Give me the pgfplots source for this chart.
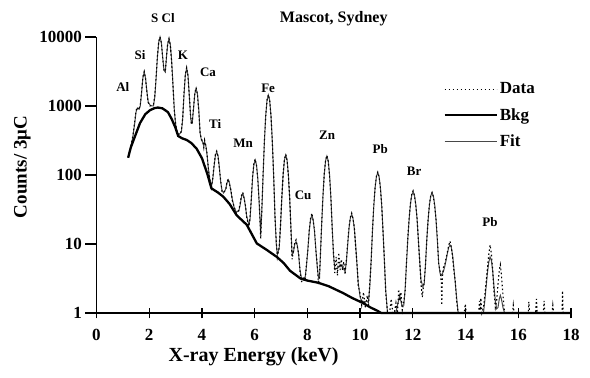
\documentclass[border=0pt]{standalone}
\usepackage{pgfplots}
\pgfplotsset{compat=1.18}
\usepackage{fontspec}
\setmainfont{Liberation Serif}
\pgfplotstableread{
x y
1.20 178
1.30 250
1.45 355
1.65 565
1.85 760
2.03 870
2.20 930
2.33 950
2.50 925
2.71 815
2.85 650
2.98 500
3.10 367
3.25 340
3.42 322
3.60 290
3.80 240
4.00 175
4.20 105
4.36 64
4.60 56
4.81 48.5
5.05 38
5.32 26
5.70 19
6.08 10.2
6.46 8.2
6.84 6.5
7.10 5.3
7.34 4.1
7.72 3.2
8.00 2.95
8.40 2.75
8.80 2.45
9.35 1.95
9.70 1.65
10.10 1.4
10.40 1.2
10.65 1.08
10.80 1.0
18.00 1.0
}\bkgtable
\pgfplotstableread{
x y
1.20 178
1.30 250
1.38 360
1.45 560
1.50 820
1.55 930
1.62 900
1.66 1000
1.71 1550
1.76 2550
1.81 3100
1.86 2550
1.91 1650
1.96 1150
2.03 1030
2.10 1000
2.16 1000
2.21 1330
2.26 2480
2.31 5050
2.36 8330
2.41 10000
2.46 8400
2.51 5150
2.56 3300
2.61 3100
2.66 5420
2.70 7830
2.75 9300
2.80 7800
2.85 4590
2.90 2060
2.95 900
3.00 545
3.05 440
3.10 380
3.17 400
3.22 420
3.27 650
3.32 1480
3.37 2800
3.42 3520
3.47 2800
3.52 1450
3.57 700
3.60 560
3.63 560
3.68 900
3.73 1500
3.78 1800
3.83 1480
3.88 880
3.93 410
3.98 320
4.03 300
4.07 260
4.10 300
4.14 280
4.19 200
4.25 120
4.31 80
4.36 68
4.41 87
4.46 133
4.51 191
4.56 217
4.61 190
4.66 130
4.71 80
4.76 60
4.82 55
4.90 62
4.95 77
5.00 85
5.05 75
5.10 58
5.15 45
5.22 34
5.30 29
5.40 30
5.45 37
5.50 48
5.55 54
5.60 47
5.65 35
5.70 25
5.78 19
5.82 22
5.87 42
5.92 91
5.97 142
6.02 165
6.07 140
6.12 88
6.17 40
6.23 14
6.27 29
6.32 99
6.37 309
6.42 724
6.47 1212
6.52 1440
6.57 1210
6.62 723
6.67 307
6.72 97
6.77 26
6.82 10
6.86 7
6.93 8.7
6.98 18
7.03 46
7.08 100
7.13 165
7.18 195
7.23 165
7.28 100
7.33 44
7.38 16
7.42 7
7.47 7.5
7.52 9.9
7.57 10.8
7.62 9.5
7.67 6.8
7.72 4.2
7.77 3.3
7.86 3.0
7.92 3.4
7.97 5
8.02 8.6
8.07 15.3
8.12 22.6
8.17 26
8.22 22.5
8.27 15.2
8.32 8.5
8.37 4.8
8.42 3.3
8.46 3.2
8.49 6.5
8.54 18.4
8.59 48.6
8.64 102.5
8.69 161
8.74 188
8.79 161
8.84 102
8.89 48
8.94 18
8.99 7
9.04 4.4
9.14 4.4
9.24 5.0
9.33 4.6
9.43 4.0
9.48 5.5
9.53 9.9
9.58 17
9.63 23.8
9.68 27
9.73 23.6
9.78 16.8
9.83 9.7
9.88 5
9.93 2.7
10.00 1.7
10.06 1.5
10.20 1.45
10.32 1.5
10.37 2.5
10.42 6.0
10.47 15.6
10.52 36
10.57 66
10.62 95.5
10.67 108
10.72 95.4
10.77 66
10.82 35.8
10.87 15.4
10.92 5.7
10.97 2.2
11.04 1.0
11.35 1.0
11.42 1.3
11.50 1.8
11.58 1.3
11.66 1.3
11.71 2.3
11.76 5.3
11.81 11.8
11.86 23.1
11.91 38
11.96 51.5
12.01 57
12.06 51.5
12.11 38
12.16 23.1
12.21 11.8
12.26 5.5
12.31 3.0
12.38 2.4
12.43 2.6
12.48 5.1
12.53 11.4
12.58 22.3
12.63 36.7
12.68 49.7
12.73 55
12.78 49.7
12.83 36.7
12.88 22.3
12.93 11.4
12.98 5.4
13.03 3.8
13.08 3.5
13.16 4.0
13.21 4.7
13.26 5.8
13.31 7.3
13.36 8.9
13.41 9.7
13.46 8.9
13.51 6.8
13.56 4.4
13.61 2.7
13.66 1.7
13.72 1.0
14.68 1.0
14.73 1.5
14.78 2.4
14.83 3.8
14.88 5.4
14.93 6.5
14.98 5.8
15.03 4.0
15.08 2.4
15.13 1.5
15.18 1.15
15.23 1.2
15.28 1.6
15.32 1.8
15.36 1.6
15.42 1.2
15.48 1.0
18.00 1.0
}\fittable
\pgfplotstableread{
x y
1.20 178
1.30 255
1.38 370
1.45 600
1.50 860
1.55 960
1.59 880
1.62 920
1.66 1050
1.71 1600
1.76 2650
1.81 3150
1.86 2500
1.91 1600
1.96 1120
2.03 1000
2.10 1030
2.16 1050
2.21 1400
2.26 2600
2.31 5300
2.36 8600
2.41 10000
2.46 8200
2.51 5000
2.56 3250
2.61 3200
2.66 5600
2.70 8000
2.75 9500
2.80 7600
2.85 4400
2.90 2000
2.95 880
3.00 560
3.05 430
3.10 390
3.17 390
3.22 440
3.27 680
3.32 1550
3.37 2900
3.42 3600
3.47 2750
3.52 1400
3.57 720
3.60 540
3.63 580
3.68 950
3.73 1550
3.78 1850
3.83 1450
3.88 850
3.93 400
3.98 330
4.03 310
4.07 250
4.10 320
4.14 270
4.19 210
4.25 115
4.31 82
4.36 66
4.41 90
4.46 140
4.51 200
4.56 222
4.61 185
4.66 125
4.71 84
4.76 58
4.82 56
4.90 60
4.95 80
5.00 88
5.05 72
5.10 60
5.15 43
5.22 35
5.30 28
5.40 31
5.45 39
5.50 50
5.55 56
5.60 45
5.65 36
5.70 24
5.78 18
5.82 23
5.87 44
5.92 95
5.97 148
6.02 170
6.07 136
6.12 85
6.17 42
6.23 12
6.27 31
6.32 105
6.37 320
6.42 740
6.47 1240
6.52 1460
6.57 1190
6.62 700
6.67 300
6.72 100
6.77 25
6.82 11
6.86 6.5
6.93 9
6.98 19
7.03 48
7.08 104
7.13 170
7.18 200
7.23 160
7.28 97
7.33 46
7.38 15
7.42 6
7.47 8
7.52 10.5
7.57 11.5
7.62 9
7.67 7.2
7.72 4
7.77 2.8
7.86 3.2
7.92 3.0
7.97 5.5
8.02 8.2
8.07 16
8.12 23.5
8.17 28
8.22 21.5
8.27 16
8.32 8
8.37 5.2
8.42 2.6
8.46 3.6
8.49 6
8.54 19
8.59 50
8.64 106
8.69 165
8.74 192
8.79 158
8.84 98
8.89 50
8.94 17
8.99 7.5
9.04 3.8
9.09 6.5
9.14 3.5
9.19 7.5
9.24 4.2
9.29 6
9.33 4.2
9.38 5.5
9.43 3.6
9.48 6
9.53 10.5
9.58 18
9.63 24.5
9.68 28
9.73 23
9.78 17.5
9.83 9.2
9.88 5.5
9.93 2.5
10.00 1.9
10.06 1.3
10.13 2.0
10.20 1.2
10.27 1.8
10.32 1.3
10.37 2.8
10.42 5.6
10.47 16.5
10.52 37
10.57 68
10.62 97
10.67 110
10.72 93
10.77 64
10.82 37
10.87 14.5
10.92 6.2
10.97 2.0
11.04 1.0
11.12 1.0
11.18 1.6
11.24 1.0
11.30 1.0
11.36 1.4
11.42 1.0
11.46 2.2
11.50 1.5
11.55 2.0
11.60 1.1
11.66 1.5
11.71 2.1
11.76 5.6
11.81 12.5
11.86 24
11.91 39
11.96 53
12.01 59
12.06 50
12.11 37
12.16 24
12.21 11
12.26 5.8
12.31 2.6
12.36 1.7
12.40 2.4
12.43 2.8
12.48 4.8
12.53 12
12.58 23
12.63 38
12.68 51
12.73 56
12.78 48
12.83 35
12.88 23
12.93 12
12.98 5
13.03 4.2
13.08 2.8
13.10 1.3
13.12 3.2
13.16 4.6
13.21 5.0
13.26 6.2
13.31 7.6
13.36 9.5
13.41 11
13.46 9.0
13.51 6.5
13.56 4.0
13.61 2.9
13.66 1.5
13.72 1.0
13.95 1.0
13.99 1.35
14.03 1.0
14.50 1.0
14.53 1.5
14.56 1.1
14.58 1.65
14.62 1.0
14.68 1.2
14.73 1.8
14.78 2.8
14.83 4.4
14.88 7.0
14.93 9.7
14.98 7.2
15.03 4.2
15.08 2.0
15.13 1.2
15.18 1.5
15.23 2.6
15.28 4.2
15.32 5.0
15.36 3.6
15.42 1.8
15.48 1.0
15.78 1.0
15.81 1.3
15.84 1.0
16.38 1.0
16.40 1.45
16.43 1.0
16.66 1.0
16.69 1.6
16.72 1.0
16.95 1.0
16.98 1.5
17.01 1.0
17.28 1.0
17.31 1.3
17.34 1.0
17.66 1.0
17.68 2.1
17.70 1.0
18.00 1.0
}\datatable
\begin{document}
\begin{tikzpicture}
\path[use as bounding box] (-96.5pt,-65pt) rectangle (493.5pt,313pt);
\begin{axis}[
  at={(0pt,0pt)}, anchor=south west,
  scale only axis, width=474.5pt, height=276pt,
  xmin=0, xmax=18, ymin=1, ymax=10000, ymode=log,
  clip=false,
  axis x line*=bottom, axis y line*=left,
  axis line style={line width=1.6pt, -},
  xtick={0,2,...,18},
  ytick={1,10,100,1000,10000},
  yticklabels={1,10,100,1000,10000},
  yminorticks=false, xminorticks=false,
  major tick length=11pt,
  xtick align=center, ytick align=outside,
  tick style={line width=1.3pt, black},
  /pgf/number format/assume math mode=true,
  ticklabel style={font=\fontsize{17}{20}\selectfont\bfseries},
  xticklabel style={yshift=-7pt},
  xlabel={X-ray Energy (keV)},
  xlabel style={at={(axis description cs:0.331,0)}, anchor=center, yshift=-44pt, font=\fontsize{20}{24}\selectfont\bfseries},
  ylabel={Counts/ 3μC},
  ylabel style={at={(axis description cs:-0.156,0.529)}, anchor=center, font=\fontsize{19}{23}\selectfont\bfseries},
  title={Mascot, Sydney},
  title style={at={(axis description cs:0.5,1)}, anchor=center, yshift=12pt, font=\fontsize{16}{19}\selectfont\bfseries},
  legend style={draw=none, fill=none, at={(axis description cs:0.731,0.842)}, anchor=north west,
     font=\fontsize{17}{20}\selectfont\bfseries, row sep=9pt, inner sep=0pt},
  legend cell align=left,
  legend image code/.code={\draw[#1] (0pt,0pt) -- (52pt,0pt);},
]
\addplot[black!72, line width=1pt, forget plot] table[x=x,y=y] {\fittable};
\addplot[black, line width=1.1pt, dash pattern=on 1.6pt off 2.4pt] table[x=x,y=y] {\datatable};
\addlegendentry{Data}
\addplot[black, line width=2.3pt] table[x=x,y=y] {\bkgtable};
\addlegendentry{Bkg}
\addlegendimage{black!72, line width=1pt}
\addlegendentry{Fit}
\begin{scope}[every node/.style={font=\fontsize{13}{15}\selectfont\bfseries}]
\node at (axis cs:2.52,18840) {S Cl};
\node at (axis cs:1.65,5490) {Si};
\node at (axis cs:1.0,1885) {Al};
\node at (axis cs:3.28,5490) {K};
\node at (axis cs:4.23,3100) {Ca};
\node at (axis cs:4.5,550) {Ti};
\node at (axis cs:5.56,291) {Mn};
\node at (axis cs:6.51,1820) {Fe};
\node at (axis cs:8.75,380) {Zn};
\node at (axis cs:7.84,51) {Cu};
\node at (axis cs:10.76,238) {Pb};
\node at (axis cs:12.05,114) {Br};
\node at (axis cs:14.93,20.8) {Pb};
\end{scope}
\end{axis}
\end{tikzpicture}
\end{document}
